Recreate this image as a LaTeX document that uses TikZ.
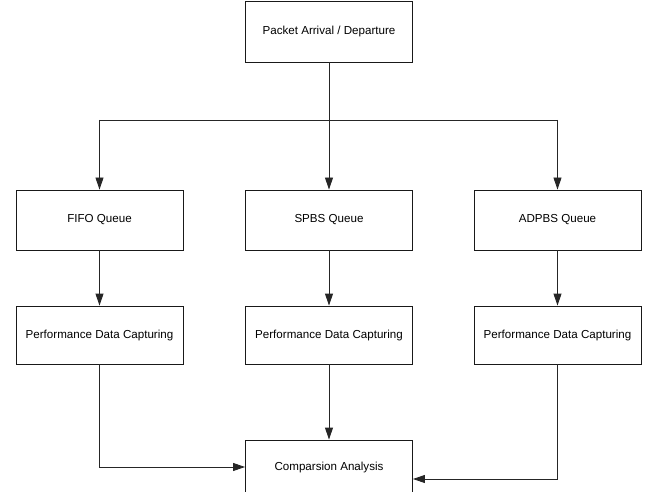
\documentclass[tikz,border=0pt]{standalone}
\usepackage{fontspec}
\setmainfont{Liberation Sans}
\usetikzlibrary{arrows.meta}
\begin{document}
\begin{tikzpicture}[x=1pt,y=-1pt,
  box/.style={draw=black!90, line width=0.9pt, fill=white, inner sep=0pt, font=\fontsize{11.6pt}{13pt}\selectfont},
  qbox/.style={box, minimum width=167pt, minimum height=60pt},
  conn/.style={draw=black!85, line width=0.9pt},
  arr/.style={conn, -{Triangle[length=12pt,width=8pt]}}]
\useasboundingbox (0,0) rectangle (651,492);
\node[box, minimum width=167pt, minimum height=61pt] (top) at (329,31.5) {Packet Arrival / Departure};
\node[qbox] (fifo) at (99.5,220) {FIFO Queue};
\node[qbox] (spbs) at (329,220) {SPBS Queue};
\node[qbox] (adpbs) at (557.5,220) {ADPBS Queue};
\node[qbox, minimum height=58pt] (p1) at (99.5,335) {Performance Data Capturing};
\node[qbox, minimum height=58pt] (p2) at (329,335) {Performance Data Capturing};
\node[qbox, minimum height=58pt] (p3) at (557.5,335) {Performance Data Capturing};
\node[qbox, minimum height=54pt] (comp) at (329,467) {Comparsion Analysis};
\coordinate (split) at (top.south |- 0,120);
\coordinate (lft) at (fifo.north |- 0,120);
\coordinate (rgt) at (adpbs.north |- 0,120);
\draw[conn] (top.south) -- (split);
\draw[conn] (lft) -- (rgt);
\draw[arr] (lft) -- (fifo.north);
\draw[arr] (split) -- (spbs.north);
\draw[arr] (rgt) -- (adpbs.north);
\draw[arr] (fifo.south) -- (p1.north);
\draw[arr] (spbs.south) -- (p2.north);
\draw[arr] (adpbs.south) -- (p3.north);
\draw[arr] (p1.south) |- (comp.west);
\draw[arr] (p2.south) -- (comp.north);
\coordinate (cr) at (comp.east |- 0,479);
\draw[arr] (p3.south) |- (cr);
\end{tikzpicture}
\end{document}
